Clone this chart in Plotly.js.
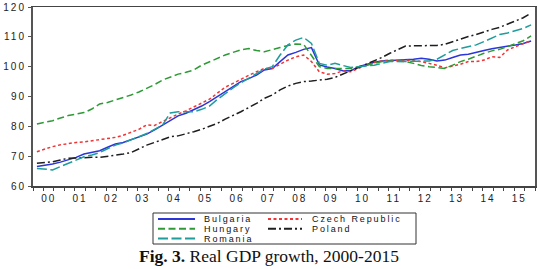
<!DOCTYPE html>
<html>
<head>
<meta charset="utf-8">
<script src="https://cdn.plot.ly/plotly-3.0.1.min.js"></script>
<style>
  html, body { margin: 0; padding: 0; background: #fff; }
  #chart { width: 538px; height: 269px; }
  .ytick text, .x2tick text { letter-spacing: 2px; }
</style>
</head>
<body>
<div id="chart"></div>
<script>
// Quarterly real GDP index (2010 = 100), 2000Q1 - 2015Q4
const years = [2000, 2001, 2002, 2003, 2004, 2005, 2006, 2007,
               2008, 2009, 2010, 2011, 2012, 2013, 2014, 2015];
const quarters = [1, 2, 3, 4];
const yearLabels = ['00', '01', '02', '03', '04', '05', '06', '07',
                    '08', '09', '10', '11', '12', '13', '14', '15'];

const bulgaria = [
  66.5, 66.9, 67.4, 68.0,   68.7, 69.6, 70.7, 71.2,
  71.8, 73.0, 74.1, 74.6,   75.6, 76.4, 77.4, 78.8,
  80.4, 82.0, 83.5, 84.4,   85.5, 86.8, 88.3, 90.0,
  91.6, 93.3, 95.0, 96.0,   97.2, 98.9, 99.4, 101.7,
  103.9, 104.8, 105.8, 106.4, 100.6, 99.9, 99.4, 98.6,
  98.6, 100.0, 100.8, 101.5, 101.9, 102.0, 102.2, 102.2,
  102.5, 102.8, 102.5, 101.9, 102.2, 103.1, 103.9, 104.2,
  104.7, 105.4, 106.0, 106.4, 106.7, 107.3, 107.8, 108.6
];
const czechRepublic = [
  71.5, 72.4, 73.2, 73.8,   74.3, 74.6, 74.8, 75.2,
  75.6, 75.9, 76.3, 77.0,   77.9, 79.0, 80.5, 80.3,
  81.6, 82.9, 84.1, 85.2,   86.4, 87.8, 89.1, 91.0,
  93.1, 94.4, 95.8, 97.1,   98.3, 99.4, 99.4, 100.8,
  102.2, 103.3, 103.9, 101.7, 98.3, 97.5, 97.7, 98.6,
  98.3, 99.4, 100.6, 101.3, 102.0, 102.2, 102.0, 102.2,
  102.0, 101.7, 101.1, 100.5, 99.6, 100.1, 100.8, 101.7,
  101.7, 102.2, 103.3, 103.1, 105.6, 106.7, 107.8, 108.7
];
const hungary = [
  80.8, 81.3, 81.9, 82.8,   83.6, 84.1, 84.6, 85.8,
  87.5, 88.0, 88.8, 89.6,   90.5, 91.5, 92.7, 94.0,
  95.5, 96.6, 97.5, 98.1,   98.9, 100.5, 101.7, 102.8,
  103.9, 104.8, 105.6, 106.1, 105.4, 105.0, 105.6, 106.4,
  107.1, 107.6, 107.5, 103.9, 100.0, 99.4, 99.4, 99.3,
  99.4, 100.0, 100.4, 101.1, 101.7, 101.9, 101.9, 101.7,
  101.1, 100.4, 100.0, 99.7, 99.4, 100.5, 101.7, 102.5,
  103.6, 104.5, 105.3, 105.8, 106.7, 107.8, 108.7, 110.3
];
const poland = [
  67.6, 67.9, 68.1, 68.7,   69.3, 69.4, 69.6, 69.6,
  69.6, 69.9, 70.2, 70.7,   71.2, 72.5, 73.7, 74.6,
  75.6, 76.5, 76.8, 77.4,   78.2, 79.0, 79.9, 81.0,
  82.4, 83.6, 84.9, 86.3,   87.7, 89.4, 90.5, 92.2,
  93.5, 94.4, 95.0, 95.2,   95.5, 95.8, 96.4, 97.5,
  98.6, 99.6, 100.8, 102.0, 103.1, 104.5, 105.8, 106.9,
  107.0, 107.0, 107.0, 107.1, 107.5, 108.4, 109.3, 110.1,
  110.8, 111.7, 112.5, 113.2, 114.2, 115.3, 116.4, 117.9
];
const romania = [
  65.9, 65.7, 65.4, 66.5,   67.6, 68.8, 69.8, 70.4,
  71.2, 72.5, 73.7, 74.5,   75.4, 76.5, 77.6, 79.0,
  80.4, 84.5, 84.9, 84.9,   84.9, 85.7, 86.8, 89.0,
  91.1, 92.9, 94.6, 96.2,   97.8, 99.2, 100.0, 103.9,
  107.3, 108.9, 109.8, 107.8, 101.1, 100.5, 101.1, 100.5,
  99.7, 100.0, 100.2, 100.5, 101.1, 101.7, 101.7, 101.7,
  101.9, 101.7, 101.9, 102.5, 103.9, 105.4, 106.1, 106.7,
  107.3, 108.4, 109.7, 110.8, 111.3, 112.0, 112.8, 114.0
];

// Series styling
const series = [
  { name: 'Bulgaria',       y: bulgaria,      color: '#2b35d8', dash: 'solid' },
  { name: 'Czech Republic', y: czechRepublic, color: '#ef3535', dash: '3px,2.5px' },
  { name: 'Hungary',        y: hungary,       color: '#2e9a35', dash: '7px,3.5px' },
  { name: 'Poland',         y: poland,        color: '#1e1e1e', dash: '8px,3px,2px,3px' },
  { name: 'Romania',        y: romania,       color: '#1f9c9c', dash: '10px,3.5px' }
];

// Quarter midpoints on a fractional-year axis
const xq = [];
years.forEach(yr => quarters.forEach(q => xq.push(yr + (q - 0.5) / 4)));
const yearCenters = years.map(yr => yr + 0.5);

const traces = series.map(s => ({
  type: 'scatter', mode: 'lines', name: s.name,
  x: xq, y: s.y, xaxis: 'x', yaxis: 'y',
  line: { color: s.color, width: 1.5, dash: s.dash },
  showlegend: false, hoverinfo: 'skip'
}));
// Carrier trace for the year-label axis
traces.push({ type: 'scatter', mode: 'lines', x: [years[0]], y: [null],
              xaxis: 'x2', yaxis: 'y', showlegend: false, hoverinfo: 'skip' });

// Plot area in pixels (for the boxed legend and caption below it)
const L = 33, R = 535, T = 7, B = 186;
const px = v => (v - L) / (R - L);
const py = v => (B - v) / (B - T);

const shapes = [{
  type: 'rect', xref: 'paper', yref: 'paper',
  x0: px(153), x1: px(416), y0: py(213), y1: py(244),
  line: { color: '#333', width: 1 }, fillcolor: 'rgba(0,0,0,0)'
}];
const annotations = [];
const colX = [[158, 195, 203], [268, 302, 311]];
const rowY = [219, 228.8, 238.6];
series.forEach((s, i) => {
  const c = colX[i % 2], r = rowY[Math.floor(i / 2)];
  shapes.push({
    type: 'line', xref: 'paper', yref: 'paper',
    x0: px(c[0]), x1: px(c[1]), y0: py(r), y1: py(r),
    line: { color: s.color, width: 2, dash: s.dash }
  });
  annotations.push({
    xref: 'paper', yref: 'paper', x: px(c[2]), y: py(r),
    xanchor: 'left', yanchor: 'middle', align: 'left', showarrow: false,
    borderpad: 0,
    text: s.name, font: { family: 'Liberation Sans', size: 9, color: '#111' }
  });
});
annotations.push({
  xref: 'paper', yref: 'paper', x: px(268.5), y: py(256),
  xanchor: 'center', yanchor: 'middle', showarrow: false,
  text: '<b>Fig. 3.</b> Real GDP growth, 2000-2015',
  font: { family: 'Liberation Serif', size: 17.5, color: '#111' }
});

const layout = {
  width: 538, height: 269,
  margin: { l: L, r: 538 - R, t: T, b: 269 - B, pad: 0 },
  paper_bgcolor: '#fff', plot_bgcolor: '#fff',
  font: { family: 'Liberation Sans', size: 10, color: '#222' },
  showlegend: false,
  xaxis: {
    range: [years[0], years[years.length - 1] + 1],
    tickmode: 'linear', tick0: years[0], dtick: 1 / 3,
    ticks: 'outside', ticklen: 3, tickcolor: '#444', tickwidth: 1,
    showticklabels: false, showgrid: false, zeroline: false,
    showline: true, linecolor: '#444', linewidth: 1.5, mirror: true
  },
  xaxis2: {
    overlaying: 'x', matches: 'x', side: 'bottom',
    tickmode: 'array', tickvals: yearCenters, ticktext: yearLabels,
    ticks: '', ticklabelstandoff: 5, showline: false, showgrid: false, zeroline: false,
    tickfont: { family: 'Liberation Sans', size: 10, color: '#222' }
  },
  yaxis: {
    range: [60, 120], tickmode: 'linear', tick0: 60, dtick: 10,
    ticks: 'outside', ticklen: 3, tickcolor: '#555', tickwidth: 1,
    showgrid: false, zeroline: false,
    showline: true, linecolor: '#555', linewidth: 2, mirror: true,
    tickfont: { family: 'Liberation Sans', size: 10, color: '#222' }
  },
  shapes: shapes,
  annotations: annotations
};

Plotly.newPlot('chart', traces, layout, { staticPlot: true, displayModeBar: false })
  .then(() => {
    // Wide-tracked legend labels, as in the original figure style
    document.querySelectorAll('.annotation-text').forEach(t => {
      if (series.some(s => s.name === t.textContent)) t.style.letterSpacing = '1.9px';
    });
  });
</script>
</body>
</html>
